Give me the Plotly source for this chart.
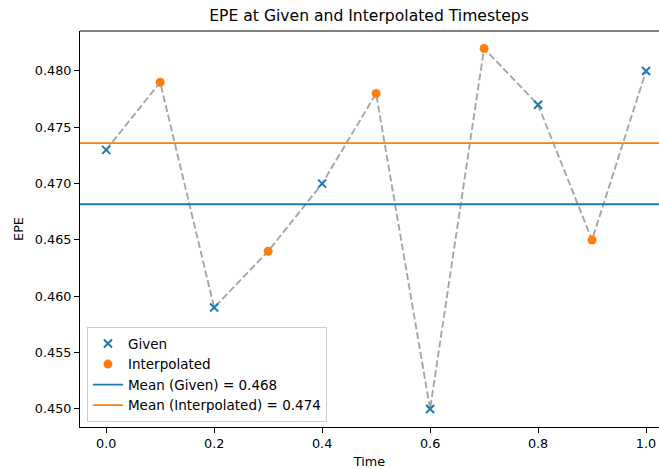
import plotly.graph_objects as go

given_t = [0.0, 0.2, 0.4, 0.6, 0.8, 1.0]
given_epe = [0.473, 0.459, 0.470, 0.450, 0.477, 0.480]
interp_t = [0.1, 0.3, 0.5, 0.7, 0.9]
interp_epe = [0.479, 0.464, 0.478, 0.482, 0.465]

all_pts = sorted(zip(given_t + interp_t, given_epe + interp_epe))
all_t = [p[0] for p in all_pts]
all_epe = [p[1] for p in all_pts]

mean_given = sum(given_epe) / len(given_epe)
mean_interp = sum(interp_epe) / len(interp_epe)

x_range = [-0.0485, 1.024]
y_range = [0.4484, 0.48355]
span = [-0.1, 1.1]

BLUE = "#1f77b4"
ORANGE = "#ff7f0e"
FONT = "DejaVu Sans"

fig = go.Figure()
fig.add_trace(go.Scatter(x=all_t, y=all_epe, mode="lines",
                         line=dict(color="rgba(128,128,128,0.7)", width=1.9, dash="7px,3px"),
                         showlegend=False, hoverinfo="skip"))
fig.add_trace(go.Scatter(x=given_t, y=given_epe, mode="markers", name="Given",
                         marker=dict(symbol="x-thin-open", size=8, color=BLUE,
                                     line=dict(color=BLUE, width=2))))
fig.add_trace(go.Scatter(x=interp_t, y=interp_epe, mode="markers", name="Interpolated",
                         marker=dict(symbol="circle", size=9, color=ORANGE, line=dict(width=0))))
fig.add_trace(go.Scatter(x=span, y=[mean_given, mean_given], mode="lines",
                         name=f"Mean (Given) = {mean_given:.3f}",
                         line=dict(color=BLUE, width=1.9)))
fig.add_trace(go.Scatter(x=span, y=[mean_interp, mean_interp], mode="lines",
                         name=f"Mean (Interpolated) = {mean_interp:.3f}",
                         line=dict(color=ORANGE, width=1.9)))

fig.update_layout(
    width=659, height=469,
    margin=dict(l=80, r=0, t=31, b=42),
    plot_bgcolor="white", paper_bgcolor="white",
    font=dict(family=FONT, size=12.8, color="black"),
    title=dict(text="EPE at Given and Interpolated Timesteps", x=369 / 659,
               xanchor="center", y=1 - 16 / 469, yanchor="middle", font=dict(size=15.6)),
    legend=dict(x=0.012, y=0.012, xanchor="left", yanchor="bottom",
                bgcolor="rgba(255,255,255,0.8)", bordercolor="#cccccc", borderwidth=1,
                font=dict(size=13.5), tracegroupgap=0, itemwidth=30),
    showlegend=True,
)
fig.update_xaxes(range=x_range, showgrid=False, zeroline=False, showline=True,
                 linecolor="black", linewidth=1, ticks="outside", ticklen=5,
                 tickcolor="black", tickvals=[0.0, 0.2, 0.4, 0.6, 0.8, 1.0],
                 ticktext=["0.0", "0.2", "0.4", "0.6", "0.8", "1.0"],
                 title=dict(text="Time", standoff=6, font=dict(size=12.8)))
fig.update_yaxes(range=y_range, showgrid=False, zeroline=False, showline=True,
                 linecolor="black", linewidth=1, ticks="outside", ticklen=5,
                 tickcolor="black",
                 tickvals=[0.450, 0.455, 0.460, 0.465, 0.470, 0.475, 0.480],
                 ticktext=["0.450", "0.455", "0.460", "0.465", "0.470", "0.475", "0.480"],
                 title=dict(text="EPE", standoff=8, font=dict(size=12.8)))
fig.add_shape(type="line", xref="paper", yref="paper", x0=0, x1=1, y0=1, y1=1,
              line=dict(color="black", width=1))

fig.write_html("out.html", config={"displayModeBar": False},
               post_script="document.body.style.margin='0';document.body.style.overflow='hidden';")
